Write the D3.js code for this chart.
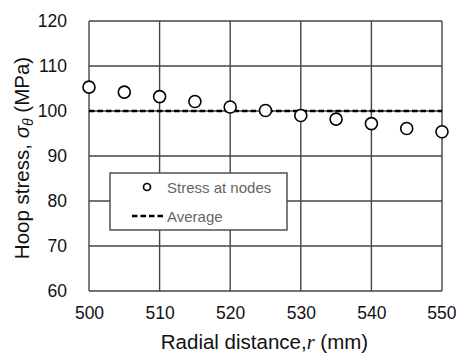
<!DOCTYPE html>
<html>
<head>
<meta charset="utf-8">
<script src="https://cdn.jsdelivr.net/npm/d3@7"></script>
<style>
  body { margin: 0; background: #fff; }
  svg { font-family: "Liberation Sans", Arial, sans-serif; }
</style>
</head>
<body>
<svg id="chart" width="456" height="354"></svg>
<script>
// data
var radius = [500, 505, 510, 515, 520, 525, 530, 535, 540, 545, 550];
var stress = [105.3, 104.2, 103.2, 102.1, 100.9, 100.1, 99.0, 98.2, 97.2, 96.1, 95.4];
var average = 100;
var xTicks = [500, 510, 520, 530, 540, 550];
var yTicks = [60, 70, 80, 90, 100, 110, 120];

var svg = d3.select("#chart");
var margin = {top: 21, right: 14, bottom: 63, left: 89};
var width = 456 - margin.left - margin.right;
var height = 354 - margin.top - margin.bottom;

var x = d3.scaleLinear().domain([500, 550]).range([0, width]);
var y = d3.scaleLinear().domain([60, 120]).range([height, 0]);

var g = svg.append("g")
    .attr("transform", "translate(" + margin.left + "," + margin.top + ")");

var gridColor = "#444";

// gridlines
g.selectAll(".hgrid").data(yTicks).enter().append("line")
    .attr("x1", 0).attr("x2", width)
    .attr("y1", function(d) { return y(d); })
    .attr("y2", function(d) { return y(d); })
    .attr("stroke", gridColor).attr("stroke-width", 1.4);

g.selectAll(".vgrid").data(xTicks).enter().append("line")
    .attr("y1", 0).attr("y2", height)
    .attr("x1", function(d) { return x(d); })
    .attr("x2", function(d) { return x(d); })
    .attr("stroke", gridColor).attr("stroke-width", 1.4);

// axes (labels only, lines drawn by grid)
var xAxis = g.append("g")
    .attr("transform", "translate(0," + height + ")")
    .call(d3.axisBottom(x).tickValues(xTicks).tickSize(0).tickPadding(16));
var yAxis = g.append("g")
    .call(d3.axisLeft(y).tickValues(yTicks).tickSize(0).tickPadding(22));
[xAxis, yAxis].forEach(function(a) {
    a.select(".domain").remove();
    a.selectAll("text")
        .attr("fill", "#111")
        .style("font-family", "'Liberation Sans', Arial, sans-serif")
        .style("font-size", "17.5px");
});
// keep the last x label inside the page
xAxis.selectAll("text").filter(function(d) { return d === 550; })
    .attr("text-anchor", "end").attr("dx", "14px");

// average line
g.append("line")
    .attr("x1", x(500)).attr("x2", x(550))
    .attr("y1", y(average)).attr("y2", y(average))
    .attr("stroke", "#000").attr("stroke-width", 2.5)
    .attr("stroke-dasharray", "5.5,3");

// points
g.selectAll(".pt").data(radius).enter().append("circle")
    .attr("cx", function(d) { return x(d); })
    .attr("cy", function(d, i) { return y(stress[i]); })
    .attr("r", 6)
    .attr("fill", "#fff")
    .attr("stroke", "#000")
    .attr("stroke-width", 1.6);

// legend
var lg = svg.append("g").attr("transform", "translate(110,173)");
lg.append("rect")
    .attr("width", 177).attr("height", 57)
    .attr("fill", "#fff").attr("stroke", gridColor).attr("stroke-width", 1.4);
lg.append("circle")
    .attr("cx", 37).attr("cy", 14).attr("r", 3.5)
    .attr("fill", "#fff").attr("stroke", "#000").attr("stroke-width", 1.7);
lg.append("text")
    .attr("x", 57).attr("y", 19.5)
    .attr("fill", "#666").style("font-size", "15px")
    .text("Stress at nodes");
lg.append("line")
    .attr("x1", 22).attr("x2", 56).attr("y1", 43).attr("y2", 43)
    .attr("stroke", "#000").attr("stroke-width", 2.5)
    .attr("stroke-dasharray", "5.5,3");
lg.append("text")
    .attr("x", 57).attr("y", 48.5)
    .attr("fill", "#666").style("font-size", "15px")
    .text("Average");

// x title
var xt = svg.append("text")
    .attr("x", margin.left + width / 2 - 1).attr("y", 349)
    .attr("text-anchor", "middle")
    .attr("fill", "#111")
    .style("font-size", "20.5px");
xt.append("tspan").text("Radial distance,");
xt.append("tspan").style("font-family", "'Liberation Serif', 'Times New Roman', serif")
    .style("font-style", "italic").text("r");
xt.append("tspan").text(" (mm)");

// y title
var yt = svg.append("text")
    .attr("transform", "translate(29," + (margin.top + height / 2 + 2) + ") rotate(-90)")
    .attr("text-anchor", "middle")
    .attr("fill", "#111")
    .style("font-size", "20.5px");
yt.append("tspan").text("Hoop stress, ");
yt.append("tspan").style("font-style", "italic").text("σ");
yt.append("tspan").style("font-style", "italic").style("font-size", "14px")
    .attr("dy", 4).text("θ");
yt.append("tspan").attr("dy", -4).text(" (MPa)");
</script>
</body>
</html>
